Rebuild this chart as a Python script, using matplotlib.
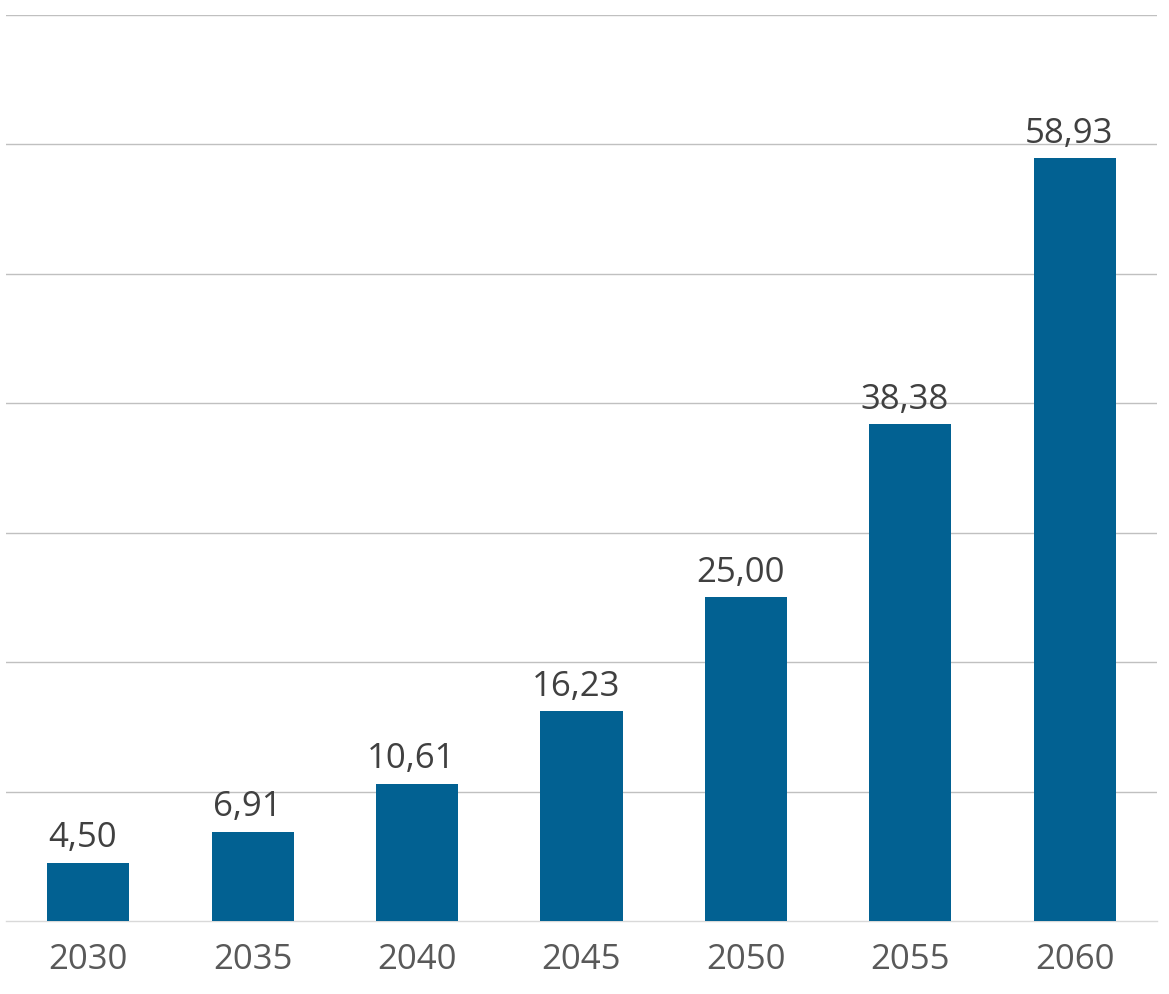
import numpy as np
import matplotlib
matplotlib.use("Agg")
import matplotlib.pyplot as plt

# data
years  = ["2030", "2035", "2040", "2045", "2050", "2055", "2060"]
values = [4.50, 6.91, 10.61, 16.23, 25.00, 38.38, 58.93]

plt.rcParams['font.family'] = ['Open Sans', 'DejaVu Sans']

fig = plt.figure(figsize=(11.69, 9.95), dpi=100)
ax = fig.add_axes([6/1169, 73/995, 1151/1169, 906/995])

x = np.arange(len(years))
bars = ax.bar(x, values, width=0.5, color="#026192", zorder=3)

# value labels sit a little left of the bar centre, as in the original
for xi, v in zip(x, values):
    ax.annotate(f"{v:.2f}".replace(".", ","), (xi, v), xytext=(-4, 6),
                textcoords="offset points", ha="center", va="bottom",
                fontsize=25, color="#404040")

ax.set_xlim(-0.5, len(years) - 0.5)
ax.set_ylim(0, 70)
ax.set_yticks(np.arange(10, 71, 10))
ax.yaxis.grid(True, color="#c0c0c0", linewidth=1.0, zorder=0)
ax.tick_params(axis="y", left=False, labelleft=False)
ax.set_xticks(x)
ax.set_xticklabels(years, fontsize=25, color="#595959")
ax.tick_params(axis="x", length=0, pad=15)

for s in ["top", "left", "right"]:
    ax.spines[s].set_visible(False)
ax.spines["bottom"].set_color("#d9d9d9")
ax.spines["bottom"].set_linewidth(1.0)

fig.savefig("out.png", dpi=100, facecolor="white")
